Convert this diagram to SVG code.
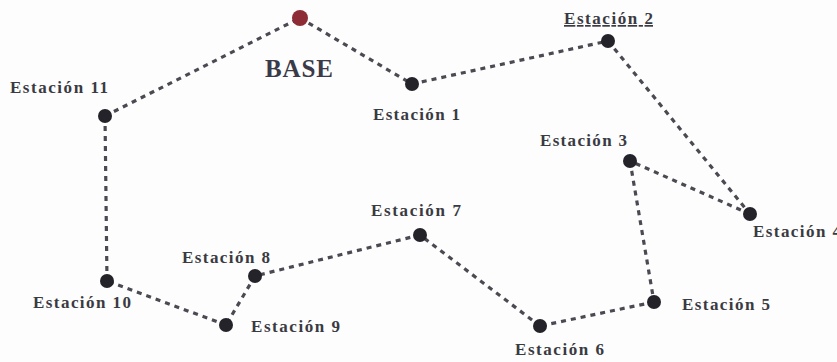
<svg xmlns="http://www.w3.org/2000/svg" width="837" height="362" viewBox="0 0 837 362">
<style>
.bg{fill:#fdfdfd}
.e{stroke:#4a4a52;stroke-width:3.2;stroke-dasharray:5 5;fill:none}
.n{fill:#24232a}
.b{fill:#8e2c35}
.t{font-family:"Liberation Serif",serif;font-weight:bold;font-size:17px;fill:#3a3a42}
.bt{font-family:"Liberation Serif",serif;font-weight:bold;font-size:25px;fill:#3a3a48}
</style>
<rect class="bg" width="837" height="362"/>
<g id="connectors">
<line class="e" x1="300" y1="18" x2="412" y2="84"/>
<line class="e" x1="412" y1="84" x2="608" y2="41"/>
<line class="e" x1="608" y1="41" x2="750" y2="214"/>
<line class="e" x1="750" y1="214" x2="630" y2="161"/>
<line class="e" x1="630" y1="161" x2="654" y2="302"/>
<line class="e" x1="654" y1="302" x2="540" y2="326"/>
<line class="e" x1="540" y1="326" x2="420" y2="235"/>
<line class="e" x1="420" y1="235" x2="255" y2="276"/>
<line class="e" x1="255" y1="276" x2="226" y2="325"/>
<line class="e" x1="226" y1="325" x2="107" y2="281"/>
<line class="e" x1="107" y1="281" x2="105" y2="116"/>
<line class="e" x1="105" y1="116" x2="300" y2="18"/>
</g>
<g id="base"><circle class="b" cx="300" cy="18" r="8"/><text class="bt" x="265" y="77" textLength="68" lengthAdjust="spacing">BASE</text></g>
<g id="e1"><circle class="n" cx="412" cy="84" r="7"/><text class="t" x="373" y="120" textLength="87" lengthAdjust="spacing">Estación 1</text></g>
<g id="e2"><circle class="n" cx="608" cy="41" r="7"/><text class="t" x="564" y="24" textLength="89" lengthAdjust="spacing" text-decoration="underline">Estación 2</text></g>
<g id="e3"><circle class="n" cx="630" cy="161" r="7"/><text class="t" x="540" y="146" textLength="87" lengthAdjust="spacing">Estación 3</text></g>
<g id="e4"><circle class="n" cx="750" cy="214" r="7"/><text class="t" x="753" y="237" textLength="88" lengthAdjust="spacing">Estación 4</text></g>
<g id="e5"><circle class="n" cx="654" cy="302" r="7"/><text class="t" x="682" y="310" textLength="88" lengthAdjust="spacing">Estación 5</text></g>
<g id="e6"><circle class="n" cx="540" cy="326" r="7"/><text class="t" x="515" y="355" textLength="89" lengthAdjust="spacing">Estación 6</text></g>
<g id="e7"><circle class="n" cx="420" cy="235" r="7"/><text class="t" x="371" y="216" textLength="90" lengthAdjust="spacing">Estación 7</text></g>
<g id="e8"><circle class="n" cx="255" cy="276" r="7"/><text class="t" x="182" y="263" textLength="88" lengthAdjust="spacing">Estación 8</text></g>
<g id="e9"><circle class="n" cx="226" cy="325" r="7"/><text class="t" x="251" y="332" textLength="89" lengthAdjust="spacing">Estación 9</text></g>
<g id="e10"><circle class="n" cx="107" cy="281" r="7"/><text class="t" x="33" y="308" textLength="98" lengthAdjust="spacing">Estación 10</text></g>
<g id="e11"><circle class="n" cx="105" cy="116" r="7"/><text class="t" x="10" y="93" textLength="98" lengthAdjust="spacing">Estación 11</text></g>
</svg>
